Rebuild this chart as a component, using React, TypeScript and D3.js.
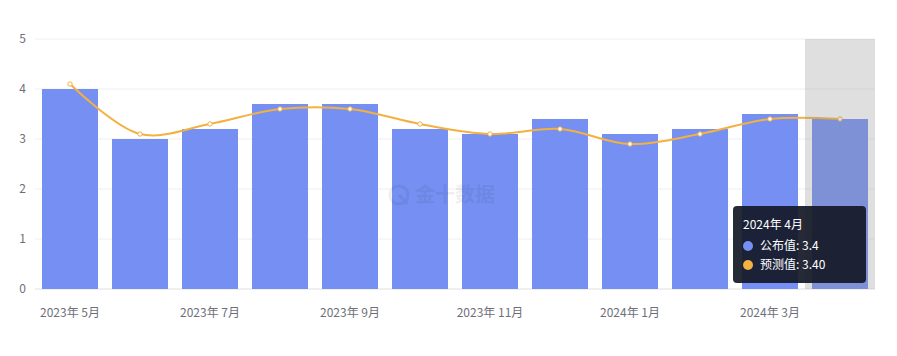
import React from "react";
import * as d3 from "d3";

const categories = ["2023年 5月","2023年 6月","2023年 7月","2023年 8月","2023年 9月","2023年 10月","2023年 11月","2023年 12月","2024年 1月","2024年 2月","2024年 3月","2024年 4月"];
const actualValues = [4.0, 3.0, 3.2, 3.7, 3.7, 3.2, 3.1, 3.4, 3.1, 3.2, 3.5, 3.4];
const forecastValues = [4.1, 3.1, 3.3, 3.6, 3.6, 3.3, 3.1, 3.2, 2.9, 3.1, 3.4, 3.4];
const yTicks = [0, 1, 2, 3, 4, 5];
const seriesNames = ["公布值", "预测值"];

const W = 897, H = 356;
const left = 35, right = 875, top = 39, bottom = 289;
const barColor = "#7590f2";
const lineColor = "#f3b13f";
const font = "'Noto Sans CJK SC', 'Noto Sans', sans-serif";

export default function App() {
  const x = d3.scaleBand<string>().domain(categories).range([left, right]).paddingInner(0).paddingOuter(0);
  const y = d3.scaleLinear().domain([0, 5]).range([bottom, top]);
  const bw = x.bandwidth();
  const barW = bw * 0.8;
  const pts: [number, number][] = forecastValues.map((v, i) => [x(categories[i])! + bw / 2, y(v)]);
  const line = d3.line().curve(d3.curveCatmullRom.alpha(0.5))(pts) || "";
  const hi = categories.length - 1;
  const hx = x(categories[hi])!;

  return (
    <svg width={W} height={H} style={{ position: "absolute", left: 0, top: 0, fontFamily: font }}>
      <rect x={0} y={0} width={W} height={H} fill="#fff" />
      {yTicks.map(t => (
        <g key={t}>
          <line x1={left} x2={right} y1={y(t)} y2={y(t)} stroke={t === 0 ? "#e0e0e0" : "#eeeeee"} strokeWidth={1} />
          <text x={26} y={y(t)} dy="0.35em" textAnchor="end" fontSize={12} fill="#6e7079">{t}</text>
        </g>
      ))}
      {actualValues.map((v, i) => (
        <rect key={i} x={x(categories[i])! + (bw - barW) / 2} y={y(v)} width={barW} height={bottom - y(v)} fill={barColor} />
      ))}
      {/* watermark */}
      <g opacity={0.06} fill="#000">
        <circle cx={399} cy={195} r={9} fill="none" stroke="#000" strokeWidth={3} />
        <path d="M399 195 L408 204" stroke="#000" strokeWidth={3} />
        <text x={415} y={202} fontSize={20} fontWeight="bold">金十数据</text>
      </g>
      <path d={line} fill="none" stroke={lineColor} strokeWidth={2} />
      {pts.map((p, i) => (
        <circle key={i} cx={p[0]} cy={p[1]} r={2.2} fill="#fff" stroke={lineColor} strokeWidth={1} />
      ))}
      {/* axis pointer shadow */}
      <rect x={hx} y={top} width={bw} height={bottom - top} fill="rgba(150,150,150,0.3)" />
      {categories.map((c, i) => i % 2 === 0 ? (
        <text key={c} x={x(c)! + bw / 2} y={313} dy="0.35em" textAnchor="middle" fontSize={12} fill="#6e7079">{c}</text>
      ) : null)}
      {/* tooltip */}
      <g>
        <rect x={733} y={206} width={133} height={77} rx={4} fill="rgba(20,24,38,0.92)" />
        <text x={743} y={225} dy="0.35em" fontSize={12} fill="#fff">{categories[hi]}</text>
        <circle cx={748} cy={246} r={5} fill={barColor} />
        <text x={760} y={246} dy="0.35em" fontSize={12} fill="#fff">{seriesNames[0]}: {actualValues[hi]}</text>
        <circle cx={748} cy={265} r={5} fill={lineColor} />
        <text x={760} y={265} dy="0.35em" fontSize={12} fill="#fff">{seriesNames[1]}: {forecastValues[hi].toFixed(2)}</text>
      </g>
    </svg>
  );
}
